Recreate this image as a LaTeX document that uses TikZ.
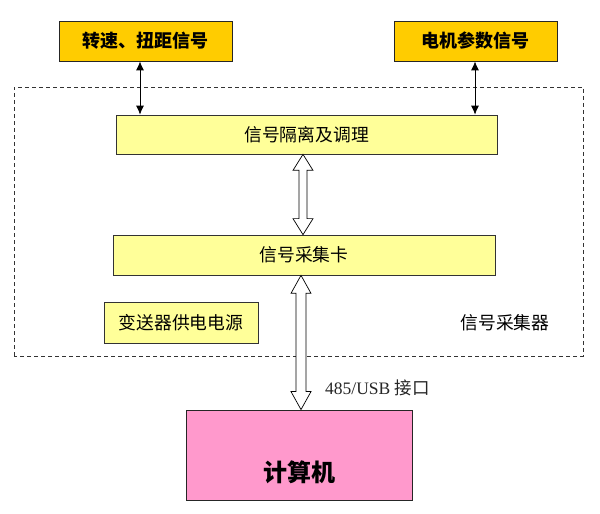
\documentclass[tikz,border=0pt]{standalone}
\usepackage{fontspec}
\setmainfont{Liberation Serif}
\newfontfamily\cjk{Noto Sans CJK SC}
\usetikzlibrary{arrows.meta,calc}
\definecolor{gold}{HTML}{FFCC00}
\definecolor{lightyel}{HTML}{FFFF99}
\definecolor{pinkbox}{HTML}{FF99CC}
\newcommand\hollowarrow[5]{%
  \draw[fill=white,line width=0.7pt] let \p1=(#1), \p2=(#2) in
    (\x1,\y1) -- (\x1+#4pt,\y1-#5pt) -- (\x1+#3pt,\y1-#5pt) -- (\x1+#3pt,\y2+#5pt)
    -- (\x1+#4pt,\y2+#5pt) -- (\x1,\y2) -- (\x1-#4pt,\y2+#5pt) -- (\x1-#3pt,\y2+#5pt)
    -- (\x1-#3pt,\y1-#5pt) -- (\x1-#4pt,\y1-#5pt) -- cycle;}
\tikzset{
  topbox/.style={draw=black!85,line width=0.8pt,fill=gold,minimum height=40pt,inner sep=0pt,
     font=\cjk\bfseries\fontsize{18}{21}\selectfont},
  innerbox/.style={draw=black!80,line width=0.7pt,fill=lightyel,inner sep=0pt,
     font=\cjk\fontsize{17.8}{21}\selectfont},
  pcbox/.style={draw=black!85,line width=0.8pt,fill=pinkbox,inner sep=0pt,
     text height=54pt,text depth=0pt,
     font=\cjk\bfseries\fontsize{24}{28}\selectfont},
  thinarrow/.style={line width=0.8pt,{Latex[length=9pt,width=8pt]}-{Latex[length=9pt,width=8pt]}},
  plainlabel/.style={inner sep=0pt,font=\cjk\fontsize{17.8}{21}\selectfont}
}
\begin{document}
\begin{tikzpicture}[x=1pt,y=1pt]
\useasboundingbox (0,0) rectangle (600,514);
% dashed enclosure
\draw[dashed,dash pattern=on 4pt off 3pt,line width=0.7pt,black!80] (14,158) rectangle (583,427);
\node[topbox,minimum width=173pt] (b1) at (145.5,473) {转速、扭距信号};
\node[topbox,minimum width=163pt] (b2) at (475.5,473) {电机参数信号};
\node[innerbox,minimum width=381pt,minimum height=39pt] (iso) at (306.5,379.5) {信号隔离及调理};
\node[innerbox,minimum width=382pt,minimum height=40pt] (card) at (304,259) {信号采集卡};
\node[innerbox,minimum width=154pt,minimum height=41pt] (pwr) at (181,191.5) {变送器供电电源};
\node[pcbox,minimum width=226pt,minimum height=90pt] (pc) at (299,59) {计算机};
\node[plainlabel] (lbl) at (505,191) {信号采集器};
\node[inner sep=0pt,anchor=west,text=black!85,font=\fontsize{17.5}{20}\selectfont] (usb) at (325,126) {485/USB {\cjk 接口}};
% connector axes
\coordinate (ax1) at (140,0);
\coordinate (ax2) at (475,0);
\coordinate (ax3) at (303,0);
\coordinate (ax4) at (301,0);
\draw[thinarrow] (b1.south -| ax1) -- (iso.north -| ax1);
\draw[thinarrow] (b2.south -| ax2) -- (iso.north -| ax2);
\hollowarrow{iso.south -| ax3}{card.north -| ax3}{4}{10}{16}
\hollowarrow{card.south -| ax4}{pc.north -| ax4}{5}{10}{18}
\end{tikzpicture}
\end{document}
